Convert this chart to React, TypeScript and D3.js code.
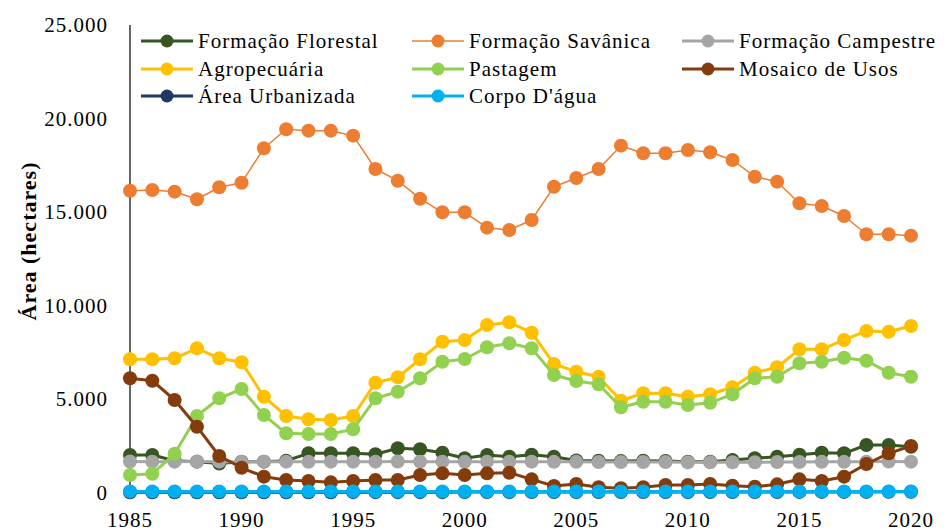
import React from 'react';
import * as d3 from 'd3';

const years = d3.range(1985, 2021);

const florestal = [2005, 2005, 1700, 1650, 1550, 1650, 1650, 1700, 2096, 2096, 2096, 2043, 2365, 2310, 2129, 1829, 2005, 1916, 2016, 1916, 1711, 1700, 1680, 1700, 1690, 1650, 1650, 1738, 1829, 1916, 2016, 2129, 2096, 2540, 2540, 2450];
const savanica = [16140, 16178, 16087, 15680, 16322, 16568, 18408, 19424, 19349, 19349, 19082, 17301, 16675, 15712, 14985, 14985, 14162, 14039, 14574, 16354, 16819, 17301, 18547, 18141, 18141, 18317, 18194, 17782, 16889, 16622, 15467, 15322, 14788, 13808, 13808, 13734];
const campestre = [1660, 1650, 1650, 1660, 1650, 1640, 1650, 1650, 1640, 1650, 1650, 1650, 1660, 1650, 1650, 1640, 1650, 1650, 1650, 1640, 1640, 1630, 1630, 1630, 1630, 1620, 1620, 1620, 1620, 1630, 1630, 1640, 1640, 1650, 1660, 1650];
const agropecuaria = [7124, 7124, 7177, 7712, 7177, 6963, 5122, 4091, 3914, 3877, 4091, 5872, 6161, 7124, 8065, 8156, 8958, 9102, 8546, 6872, 6460, 6193, 4909, 5305, 5305, 5123, 5252, 5626, 6407, 6696, 7658, 7658, 8156, 8637, 8600, 8904];
const pastagem = [936, 1000, 2070, 4091, 5038, 5535, 4145, 3166, 3129, 3129, 3380, 5038, 5391, 6107, 6995, 7140, 7765, 7979, 7712, 6284, 5963, 5787, 4556, 4856, 4856, 4679, 4802, 5252, 6107, 6193, 6910, 6995, 7209, 7049, 6407, 6193];
const mosaico = [6107, 5979, 4947, 3519, 1952, 1321, 847, 669, 615, 544, 615, 669, 669, 936, 1025, 936, 1025, 1060, 704, 348, 455, 277, 224, 277, 401, 401, 455, 364, 311, 437, 704, 615, 847, 1524, 2096, 2487];
const urbanizada = [10, 10, 12, 12, 14, 14, 15, 16, 16, 17, 18, 18, 19, 20, 20, 21, 22, 22, 23, 24, 24, 25, 26, 26, 27, 28, 28, 29, 30, 30, 31, 32, 32, 33, 34, 35];
const corpoDagua = [60, 60, 60, 60, 60, 60, 60, 60, 60, 60, 60, 60, 60, 60, 60, 60, 60, 60, 60, 60, 60, 60, 60, 60, 60, 60, 60, 60, 60, 60, 60, 60, 60, 60, 60, 60];

const seriesNames = ['Formação Florestal', 'Formação Savânica', 'Formação Campestre', 'Agropecuária', 'Pastagem', 'Mosaico de Usos', 'Área Urbanizada', "Corpo D'água"];
const seriesValues = [florestal, savanica, campestre, agropecuaria, pastagem, mosaico, urbanizada, corpoDagua];
const seriesColors = ['#375623', '#ED7D31', '#A5A5A5', '#FFC000', '#92D050', '#843C0C', '#203864', '#00B0F0'];
const seriesWidths = [3, 1.5, 3, 3, 3, 3, 3, 3];

const yTicks = [0, 5000, 10000, 15000, 20000, 25000];
const xTicks = [1985, 1990, 1995, 2000, 2005, 2010, 2015, 2020];

const font = "'Liberation Serif', 'Times New Roman', 'DejaVu Serif', serif";

const fmt = (v: number) => (v === 0 ? '0' : d3.format(',')(v).replace(/,/g, '.'));

export default function App() {
  const width = 949;
  const height = 531;
  const x = d3.scaleLinear().domain([1985, 2020]).range([130, 911]);
  const y = d3.scaleLinear().domain([0, 25000]).range([492.5, 25]);
  const line = d3.line<number>().x((_, i) => x(years[i])).y(d => y(d));

  const legendX = [141, 412, 682];
  const legendY = [41, 69, 96];
  const txt = { fontFamily: font, fontSize: 21, letterSpacing: 1 };

  return (
    <svg width={width} height={height} style={{ position: 'absolute', left: 0, top: 0, background: '#fff', fontFamily: font }}>
      <rect width={width} height={height} fill="#fff" />
      {/* y axis */}
      <line x1={130} x2={130} y1={y(25000)} y2={y(0)} stroke="#000" strokeWidth={1.2} />
      {yTicks.map(t => (
        <text key={t} x={108} y={y(t) + 7} textAnchor="end" style={txt}>{fmt(t)}</text>
      ))}
      {xTicks.map(t => (
        <text key={t} x={x(t)} y={527} textAnchor="middle" style={txt}>{t}</text>
      ))}
      <text transform="translate(36,241) rotate(-90)" textAnchor="middle" style={{ fontFamily: font, fontSize: 22, fontWeight: 'bold', letterSpacing: 1 }}>Área (hectares)</text>

      {/* series */}
      {seriesValues.map((vals, si) => (
        <g key={seriesNames[si]}>
          <path d={line(vals) || ''} fill="none" stroke={seriesColors[si]} strokeWidth={seriesWidths[si]} strokeLinejoin="round" />
          {vals.map((v, i) => (
            <circle key={i} cx={x(years[i])} cy={y(v)} r={7} fill={seriesColors[si]} />
          ))}
        </g>
      ))}

      {/* legend */}
      {seriesNames.map((name, i) => {
        const col = i % 3;
        const row = Math.floor(i / 3);
        const lx = legendX[col];
        const ly = legendY[row];
        return (
          <g key={name}>
            <line x1={lx} x2={lx + 52} y1={ly} y2={ly} stroke={seriesColors[i]} strokeWidth={seriesWidths[i]} />
            <circle cx={lx + 26} cy={ly} r={6.5} fill={seriesColors[i]} />
            <text x={lx + 57} y={ly + 7} style={txt}>{name}</text>
          </g>
        );
      })}
    </svg>
  );
}
